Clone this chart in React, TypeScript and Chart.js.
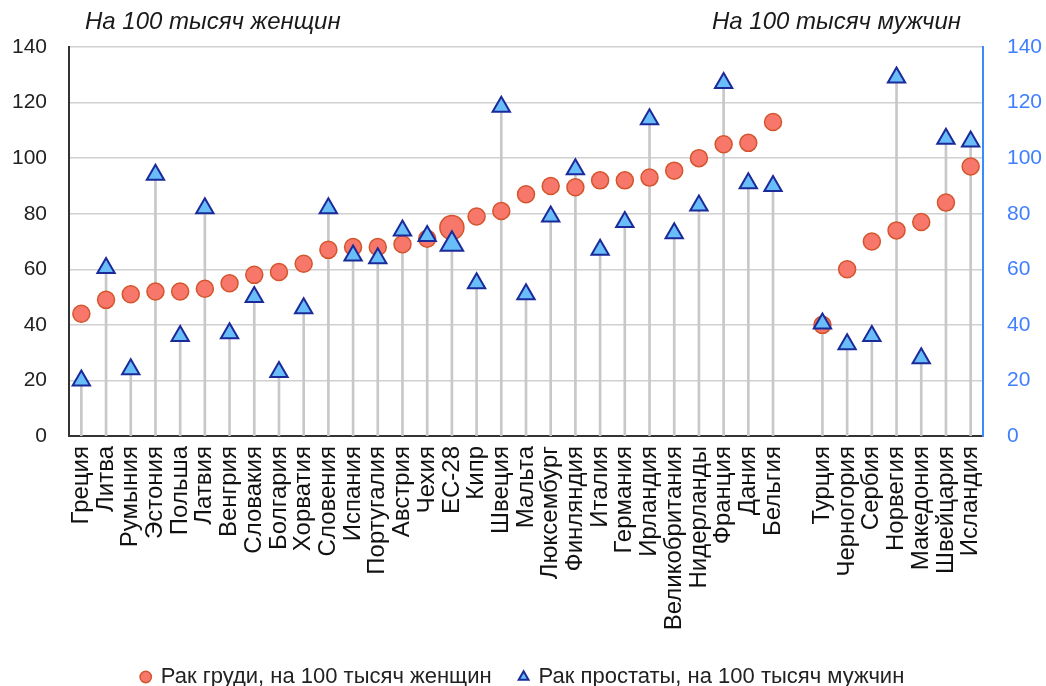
import React, { useEffect, useRef } from 'react';
import { Chart, registerables } from 'chart.js';

Chart.register(...registerables);

const categories = [
  'Греция', 'Литва', 'Румыния', 'Эстония', 'Польша', 'Латвия', 'Венгрия', 'Словакия',
  'Болгария', 'Хорватия', 'Словения', 'Испания', 'Португалия', 'Австрия', 'Чехия', 'ЕС-28',
  'Кипр', 'Швеция', 'Мальта', 'Люксембург', 'Финляндия', 'Италия', 'Германия', 'Ирландия',
  'Великобритания', 'Нидерланды', 'Франция', 'Дания', 'Бельгия', '',
  'Турция', 'Черногория', 'Сербия', 'Норвегия', 'Македония', 'Швейцария', 'Исландия',
];

const breastCancer = [
  44, 49, 51, 52, 52, 53, 55, 58, 59, 62, 67, 68, 68, 69, 71, 75,
  79, 81, 87, 90, 89.5, 92, 92, 93, 95.5, 100, 105, 105.5, 113, null,
  40, 60, 70, 74, 77, 84, 97,
];

const prostateCancer = [
  20, 60.5, 24, 94, 36, 82, 37, 50, 23, 46, 82, 65, 64, 74, 72, 69,
  55, 118.5, 51, 79, 96, 67, 77, 114, 73, 83, 127, 91, 90, null,
  40.5, 33, 36, 129, 28, 107, 106,
];

const yTicks = [0, 20, 40, 60, 80, 100, 120, 140];

const seriesNames = ['Рак груди, на 100 тысяч женщин', 'Рак простаты, на 100 тысяч мужчин'];
const leftTitle = 'На 100 тысяч женщин';
const rightTitle = 'На 100 тысяч мужчин';
const highlight = 'ЕС-28';

const FONT = '"Liberation Sans", Arial, sans-serif';

const sideTitles = {
  id: 'sideTitles',
  afterDraw(chart: any) {
    const { ctx, chartArea } = chart;
    ctx.save();
    ctx.font = `italic 24px ${FONT}`;
    ctx.fillStyle = '#1a1a1a';
    ctx.textBaseline = 'middle';
    ctx.textAlign = 'left';
    ctx.fillText(leftTitle, chartArea.left + 16, 22);
    ctx.textAlign = 'right';
    ctx.fillText(rightTitle, chartArea.right - 22, 22);
    ctx.restore();
  },
};

export default function App() {
  const ref = useRef<HTMLCanvasElement | null>(null);

  useEffect(() => {
    document.body.style.margin = '0';
    Chart.defaults.font.family = FONT;
    const canvas = ref.current;
    if (!canvas) return;
    const chart = new Chart(canvas, {
      type: 'bar',
      data: {
        labels: categories,
        datasets: [
          {
            type: 'bar',
            label: 'drop',
            data: prostateCancer,
            yAxisID: 'y1',
            backgroundColor: '#c8c8c8',
            barThickness: 2,
            order: 3,
          } as any,
          {
            type: 'line',
            label: seriesNames[0],
            data: breastCancer,
            yAxisID: 'y',
            showLine: false,
            pointStyle: 'circle',
            pointRadius: (c: any) => (categories[c.dataIndex] === highlight ? 12 : 8.5),
            pointBackgroundColor: '#f7776b',
            pointBorderColor: '#d4552c',
            pointBorderWidth: 1.5,
            backgroundColor: '#f7776b',
            borderColor: '#d4552c',
            order: 2,
          } as any,
          {
            type: 'line',
            label: seriesNames[1],
            data: prostateCancer,
            yAxisID: 'y1',
            showLine: false,
            pointStyle: 'triangle',
            pointRadius: (c: any) => (categories[c.dataIndex] === highlight ? 13 : 10),
            pointBackgroundColor: '#69bdf8',
            pointBorderColor: '#1b2a99',
            pointBorderWidth: 2,
            backgroundColor: '#69bdf8',
            borderColor: '#1b2a99',
            order: 1,
          } as any,
        ],
      },
      options: {
        animation: false,
        responsive: false,
        maintainAspectRatio: false,
        layout: { padding: { top: 47, bottom: -12, left: 0, right: 0 } },
        plugins: {
          tooltip: { enabled: false },
          legend: {
            position: 'bottom',
            labels: {
              usePointStyle: true,
              boxWidth: 8,
              boxHeight: 8,
              padding: 28,
              color: '#222',
              font: { size: 22, lineHeight: 1 },
              filter: (item: any) => item.datasetIndex !== 0,
              sort: (a: any, b: any) => a.datasetIndex - b.datasetIndex,
            },
          },
        },
        scales: {
          x: {
            type: 'category',
            offset: true,
            grid: { display: false },
            border: { display: true, color: '#333', width: 2 },
            ticks: {
              autoSkip: false,
              maxRotation: 90,
              minRotation: 90,
              color: '#111',
              font: { size: 24 },
              padding: 2,
            },
            afterFit(s: any) { s.height = 202; },
          },
          y: {
            position: 'left',
            min: 0,
            max: 140,
            afterBuildTicks(s: any) { s.ticks = yTicks.map((v) => ({ value: v })); },
            ticks: { color: '#222', font: { size: 21 }, padding: 22 },
            grid: { color: '#d0d0d0', lineWidth: 1.5, drawTicks: false },
            border: { display: true, color: '#333', width: 2 },
            afterFit(s: any) { s.width = 69; },
          },
          y1: {
            position: 'right',
            min: 0,
            max: 140,
            afterBuildTicks(s: any) { s.ticks = yTicks.map((v) => ({ value: v })); },
            ticks: { color: '#3f7fff', font: { size: 21 }, padding: 24 },
            grid: { display: false, drawTicks: false },
            border: { display: true, color: '#3b8bff', width: 2 },
            afterFit(s: any) { s.width = 63; },
          },
        },
      },
      plugins: [sideTitles],
    } as any);
    return () => chart.destroy();
  }, []);

  return (
    <div style={{ width: 1046, height: 686 }}>
      <canvas ref={ref} width={1046} height={686} style={{ display: 'block' }} />
    </div>
  );
}
